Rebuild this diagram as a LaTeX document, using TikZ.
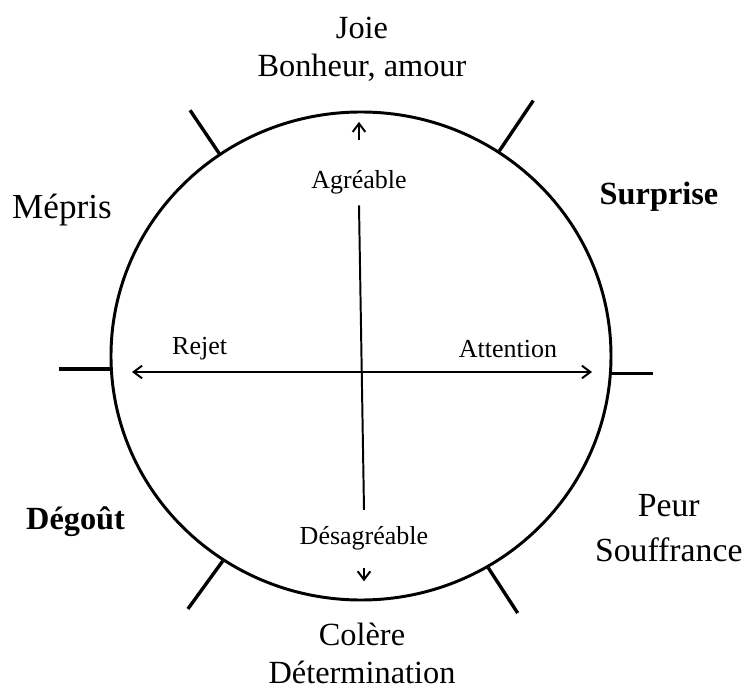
\documentclass[tikz,border=0pt]{standalone}
\usepackage{fontspec}
\setmainfont{Liberation Serif}
\usetikzlibrary{arrows.meta,positioning,shapes.geometric}
\tikzset{
  emo/.style={font=\fontsize{23}{27}\selectfont,align=center,inner sep=0pt},
  emob/.style={emo,font=\fontsize{23}{27}\selectfont\bfseries},
  pole/.style={font=\fontsize{18.5}{22}\selectfont,inner sep=0pt},
  arr/.style={-{Straight Barb[length=6pt,width=9pt]},line width=1.4pt},
  arrs/.style={{Straight Barb[length=6pt,width=9pt]}-{Straight Barb[length=6pt,width=9pt]},line width=1.4pt},
}

\begin{document}
\begin{tikzpicture}[
  wheel/.style={ellipse, draw, line width=2.1pt, inner sep=0pt,
                minimum width=12.5cm, minimum height=12.2cm},
  spoke/.style={line width=2.4pt},
  axisline/.style={line width=1.4pt}
]
  \useasboundingbox (0,0) rectangle (18.675,17.225);

  \node[wheel] (wheel) at (9.025,8.325) {};

  % Spokes round the wheel
  \draw[spoke] (wheel.125.7) -- ++(124:1.30);
  \draw[spoke] (wheel.56.6)  -- ++(56:1.52);
  \draw[spoke] (wheel.236)   -- ++(234:1.48);
  \draw[spoke] (wheel.301.5) -- ++(303:1.35);
  \draw[spoke] (wheel.183.7) -- ++(180:1.27);
  \draw[spoke] (wheel.356.3) -- ++(0:1.02);

  % Emotions
  \node[emo]  (joie)     at (9.05,16.0)   {Joie\\Bonheur, amour};
  \node[emo,font=\fontsize{25}{29}\selectfont] (mepris) at (1.55,11.975) {Mépris};
  \node[emob] (surprise) at (16.475,12.3) {Surprise};
  \node[emob] (degout)   at (1.89,4.175)  {Dégoût};
  \node[emo,font=\fontsize{24}{32}\selectfont] (peur) at (16.72,4.01) {Peur\\Souffrance};
  \node[emo]  (colere)   at (9.05,0.88)   {Colère\\Détermination};

  % Axes
  \node[pole] (agr)    at (8.975,12.675) {Agréable};
  \node[pole] (desagr) at (9.1,3.775)    {Désagréable};
  \node[pole] (rejet)  at (4.99,8.5)     {Rejet};
  \node[pole] (attn)   at (12.7,8.5)     {Attention};

  \coordinate (west) at (3.3,7.925);
  \coordinate (east) at (14.8,7.925);
  \draw[arrs] (west) -- (east);
  \draw[axisline] ([yshift=-0.28cm]agr.south) -- ([yshift=0.4cm]desagr.north);
  \draw[arr] ([yshift=0.75cm]agr.north) -- ++(0,0.45);
  \draw[arr] ([yshift=-0.45cm]desagr.south) -- ++(0,-0.33);
\end{tikzpicture}
\end{document}
